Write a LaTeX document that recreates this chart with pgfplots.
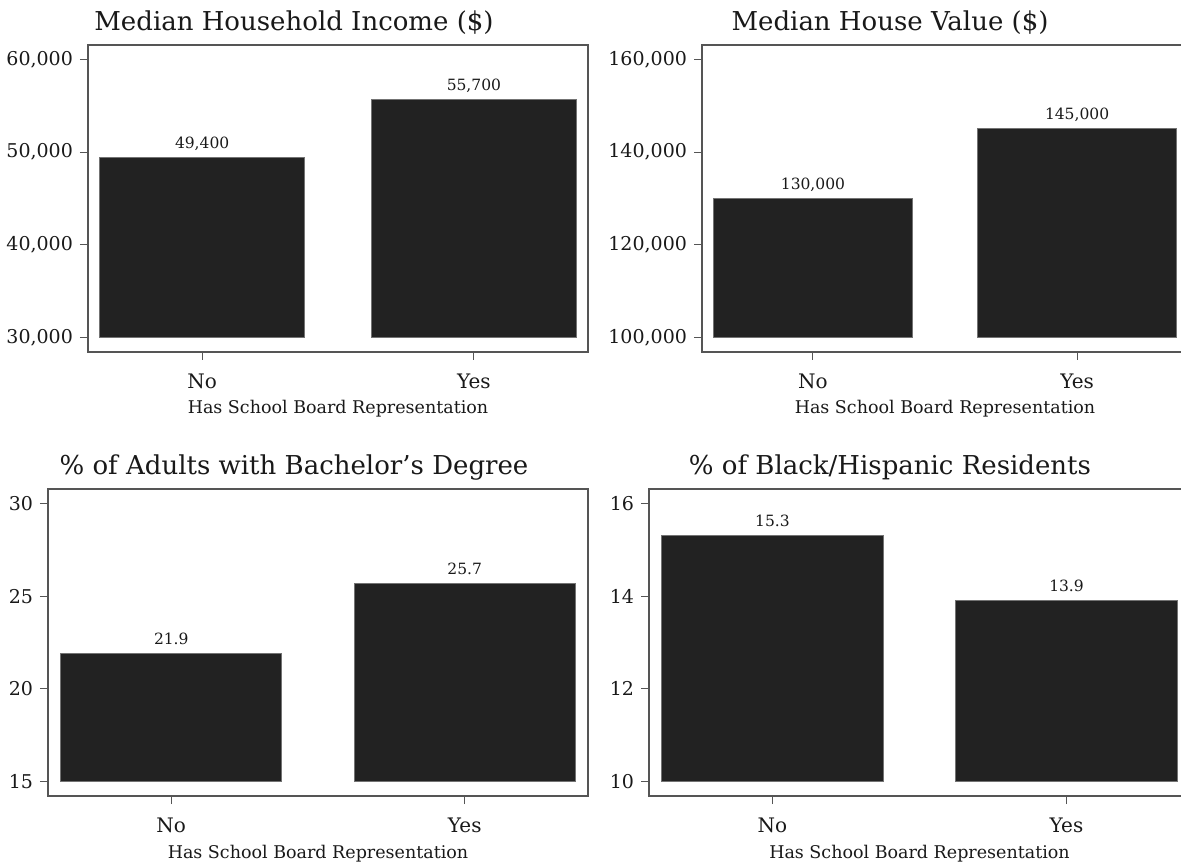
\documentclass[border=0pt]{standalone}
\usepackage{fontspec}
\setmainfont{DejaVu Serif}
\usepackage{pgfplots}
\pgfplotsset{compat=1.18}

\definecolor{barfill}{HTML}{222222}
\definecolor{framecol}{HTML}{555555}

% every panel: bars drawn from the lowest tick, so y is plotted as (value - base)
\pgfplotsset{
  panel/.style={
    scale only axis,
    height=153.5pt,
    anchor=south west,
    ybar,
    bar width=0.753,
    xmin=-0.42, xmax=1.42,
    xtick={0,1}, xticklabels={No,Yes},
    xtick pos=left, ytick pos=left,
    tick align=outside,
    major tick length=4pt,
    scaled y ticks=false,
    every tick/.style={framecol, line width=0.5pt},
    axis line style={framecol, line width=0.7pt},
    ticklabel style={font=\fontsize{9.5}{11}\selectfont, text=black!90},
    xticklabel style={font=\fontsize{10}{12}\selectfont, yshift=-3.5pt},
    xlabel={Has School Board Representation},
    xlabel style={font=\fontsize{8.75}{10}\selectfont, text=black!90,
      at={(axis description cs:0.5,0)}, anchor=base, yshift=-31pt},
  },
  val/.style={fill=barfill, draw=black!55, line width=0.4pt,
    point meta=explicit symbolic,
    nodes near coords,
    nodes near coords style={font=\fontsize{7.75}{9}\selectfont,
      anchor=base, yshift=4.5pt, text=black!90}},
}
\tikzset{ttl/.style={font=\fontsize{13}{15}\selectfont, anchor=base, text=black!90}}

\begin{document}
\begin{tikzpicture}

% top left, base 30000
\begin{axis}[panel, at={(44pt,255pt)}, width=250pt,
  ymin=-1540, ymax=31540, ytick={0,10000,20000,30000},
  yticklabels={{30,000},{40,000},{50,000},{60,000}}]
\addplot[val] table[x=x, y expr=\thisrow{v}-30000, meta=lab] {
x v lab
0 49400 49,400
1 55700 55,700
};
\end{axis}

% top right, base 100000
\begin{axis}[panel, at={(351pt,255pt)}, width=243pt,
  ymin=-3080, ymax=63080, ytick={0,20000,40000,60000},
  yticklabels={{100,000},{120,000},{140,000},{160,000}}]
\addplot[val] table[x=x, y expr=\thisrow{v}-100000, meta=lab] {
x v lab
0 130000 130,000
1 145000 145,000
};
\end{axis}

% bottom left, base 15
\begin{axis}[panel, at={(24pt,33pt)}, width=270pt,
  ymin=-0.77, ymax=15.77, ytick={0,5,10,15},
  yticklabels={15,20,25,30}]
\addplot[val] table[x=x, y expr=\thisrow{v}-15, meta=lab] {
x v lab
0 21.9 21.9
1 25.7 25.7
};
\end{axis}

% bottom right, base 10
\begin{axis}[panel, at={(324.5pt,33pt)}, width=270.5pt,
  ymin=-0.308, ymax=6.308, ytick={0,2,4,6},
  yticklabels={10,12,14,16}]
\addplot[val] table[x=x, y expr=\thisrow{v}-10, meta=lab] {
x v lab
0 15.3 15.3
1 13.9 13.9
};
\end{axis}

\node[ttl] at (147pt,415.6pt) {Median Household Income (\$)};
\node[ttl] at (445pt,415.6pt) {Median House Value (\$)};
\node[ttl] at (147pt,193.6pt) {\% of Adults with Bachelor's Degree};
\node[ttl] at (445pt,193.6pt) {\% of Black/Hispanic Residents};

\pgfresetboundingbox
\path[use as bounding box] (0,0) rectangle (590.5pt,431pt);
\end{tikzpicture}
\end{document}
